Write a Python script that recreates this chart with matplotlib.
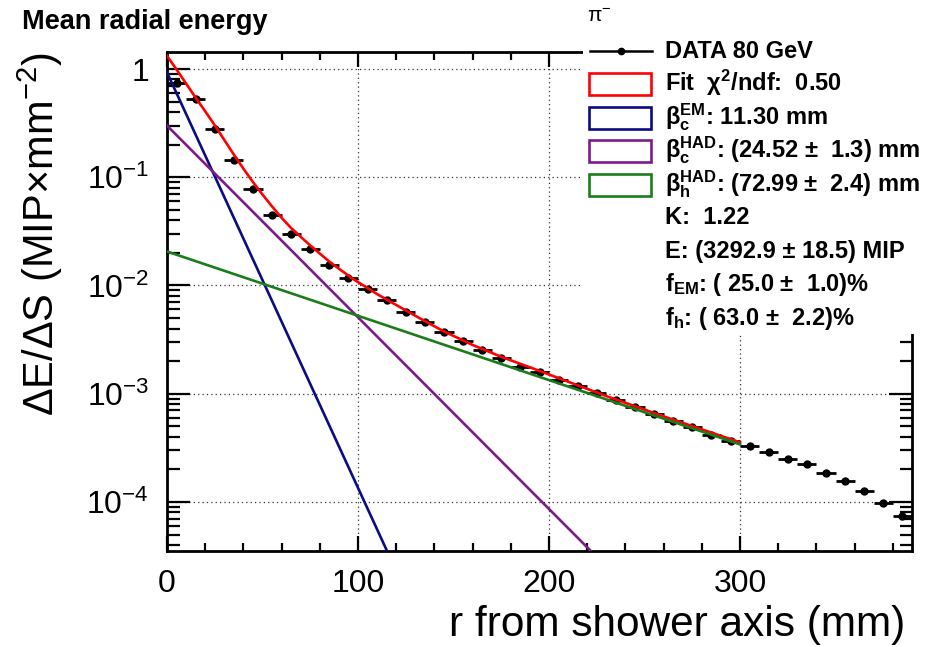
import math
import matplotlib
matplotlib.use('Agg')
import matplotlib.pyplot as plt
from matplotlib.patches import Rectangle
from matplotlib.lines import Line2D
from matplotlib.ticker import MultipleLocator, LogLocator, NullFormatter, FuncFormatter, FixedLocator

plt.rcParams['font.family'] = ['Liberation Sans', 'DejaVu Sans']
plt.rcParams['mathtext.fontset'] = 'custom'
plt.rcParams['mathtext.rm'] = 'Liberation Sans'
plt.rcParams['mathtext.it'] = 'Liberation Sans:italic'
plt.rcParams['mathtext.bf'] = 'Liberation Sans:bold'

# ---------------- data ----------------
r_centers = [5, 15, 25, 35, 45, 55, 65, 75, 85, 95,
             105, 115, 125, 135, 145, 155, 165, 175, 185, 195,
             205, 215, 225, 235, 245, 255, 265, 275, 285, 295,
             305, 315, 325, 335, 345, 355, 365, 375, 385]
bin_half_width = 5
energy = [0.738, 0.524, 0.277, 0.1436, 0.0774, 0.0452, 0.0301, 0.0215, 0.0154, 0.0117,
          0.00933, 0.00731, 0.00574, 0.00457, 0.00370, 0.00305, 0.00255, 0.00214, 0.00178, 0.00158,
          0.00135, 0.00117, 0.00102, 0.00087, 0.00076, 0.00065, 0.00056, 0.00049, 0.000417, 0.000363,
          0.000327, 0.000288, 0.000251, 0.000226, 0.000186, 0.000156, 0.000126, 0.0000986, 0.0000741]

fit_r = [0, 5, 10, 15, 20, 25, 30, 35, 40, 45, 50, 55, 60, 65, 75, 85, 97, 110, 122,
         135, 145, 160, 175, 192, 210, 230, 260, 300]
fit_val = [1.32, 0.99, 0.733, 0.543, 0.407, 0.302, 0.221, 0.162, 0.120, 0.0902, 0.0692,
           0.0537, 0.0422, 0.0339, 0.0234, 0.0166, 0.0116, 0.00832, 0.0063,
           0.00468, 0.00376, 0.00282, 0.00219, 0.0017, 0.00129, 0.00095, 0.000617, 0.000355]

em_r = [0, 120]
em_val = [0.93, 2.3e-5]
chad_r = [0, 225]
chad_val = [0.30, 3.1e-5]
hhad_r = [0, 300]
hhad_val = [0.0206, 3.4e-4]

x_major_ticks = [0, 100, 200, 300]
y_major_ticks = [1e-4, 1e-3, 1e-2, 1e-1, 1]

legend_labels = [
    'DATA 80 GeV',
    r'Fit  χ$^{\mathbf{2}}$/ndf:  0.50',
    r'β$^{\mathbf{EM}}_{\mathbf{c}}$: 11.30 mm',
    r'β$^{\mathbf{HAD}}_{\mathbf{c}}$: (24.52 ±  1.3) mm',
    r'β$^{\mathbf{HAD}}_{\mathbf{h}}$: (72.99 ±  2.4) mm',
    'K:  1.22',
    'E: (3292.9 ± 18.5) MIP',
    r'f$_{\mathbf{EM}}$: ( 25.0 ±  1.0)%',
    r'f$_{\mathbf{h}}$: ( 63.0 ±  2.2)%',
]

# ---------------- styles ----------------
C_FIT = '#ff0000'
C_EM = '#0b0b82'
C_CHAD = '#7c1a8c'
C_HHAD = '#1a7d1a'

W, H = 940, 647


def fx(x):
    return x / W


def fy(y):
    return 1 - y / H


fig = plt.figure(figsize=(W / 100, H / 100), dpi=100)
ax = fig.add_axes([fx(167), fy(551), fx(912) - fx(167), fy(52) - fy(551)])
ax.set_yscale('log')
ax.set_xlim(0, 390)
ax.set_ylim(3.52e-5, 1.436)

ax.set_axisbelow(True)
ax.grid(True, which='major', linestyle=(0, (1, 2.5)), color='#333333', linewidth=0.9)

ax.errorbar(r_centers, energy, xerr=bin_half_width, fmt='o', ms=5, color='black',
            ecolor='black', elinewidth=2.0, capsize=0, zorder=3)
ax.plot(fit_r, fit_val, color=C_FIT, lw=1.9, zorder=4)
ax.plot(em_r, em_val, color=C_EM, lw=1.9, zorder=4.2)
ax.plot(chad_r, chad_val, color=C_CHAD, lw=1.9, zorder=4.2)
ax.plot(hhad_r, hhad_val, color=C_HHAD, lw=1.9, zorder=4.2)

ax.xaxis.set_major_locator(FixedLocator(x_major_ticks))
ax.xaxis.set_minor_locator(MultipleLocator(20))
ax.xaxis.set_major_formatter(FuncFormatter(lambda v, p: '%d' % v))
ax.yaxis.set_major_locator(FixedLocator(y_major_ticks))
ax.yaxis.set_minor_locator(LogLocator(base=10, subs=range(2, 10), numticks=100))
ax.yaxis.set_minor_formatter(NullFormatter())


def yfmt(v, p):
    if abs(v - 1) < 1e-9:
        return '1'
    return r'$10^{%d}$' % int(round(math.log10(v)))


ax.yaxis.set_major_formatter(FuncFormatter(yfmt))

ax.tick_params(axis='both', which='both', direction='in', top=True, right=True,
               labelsize=23, width=1.6, color='black')
ax.tick_params(axis='x', which='major', length=11, pad=13)
ax.tick_params(axis='x', which='minor', length=6)
ax.tick_params(axis='y', which='major', length=16.5, pad=13)
ax.tick_params(axis='y', which='minor', length=9)
for s in ax.spines.values():
    s.set_linewidth(2.0)

# axis labels
fig.text(fx(905), fy(636), 'r from shower axis (mm)', ha='right', va='baseline', fontsize=30.5)
fig.text(fx(40), fy(234), 'ΔE/ΔS (MIP×mm$^{-2}$)', ha='center', va='center',
         rotation=90, fontsize=30)

# title
fig.text(fx(22), fy(29), 'Mean radial energy', ha='left', va='baseline',
         fontsize=19.5, fontweight='bold')

# legend (opaque white pave covering the plot corner)
fig.patches.append(Rectangle((fx(583), fy(334)), 1 - fx(583), fy(0) - fy(334),
                             transform=fig.transFigure, facecolor='white',
                             edgecolor='none', zorder=1.5))
fig.text(fx(587), fy(22), r'π$^{-}$', ha='left', va='baseline', fontsize=15, zorder=3)

row0 = 51
dy = 33.4
box_colors = [None, C_FIT, C_EM, C_CHAD, C_HHAD]
for i, lab in enumerate(legend_labels):
    yc = row0 + dy * i
    fig.text(fx(665), fy(yc + 6.5), lab, ha='left', va='baseline', fontsize=17,
             fontweight='bold', zorder=3)
    if i == 0:
        fig.lines.append(Line2D([fx(590), fx(652)], [fy(yc), fy(yc)], color='black', lw=1.8,
                                transform=fig.transFigure, zorder=2.5))
        fig.lines.append(Line2D([fx(621)], [fy(yc)], color='black', marker='o', ms=4.5,
                                transform=fig.transFigure, zorder=2.6))
    elif i < len(box_colors):
        fig.patches.append(Rectangle((fx(589), fy(yc + 11)), fx(651) - fx(589),
                                     fy(yc - 11) - fy(yc + 11),
                                     transform=fig.transFigure, facecolor='white',
                                     edgecolor=box_colors[i], lw=1.9, zorder=2.5))

fig.savefig('out.png', dpi=100)
